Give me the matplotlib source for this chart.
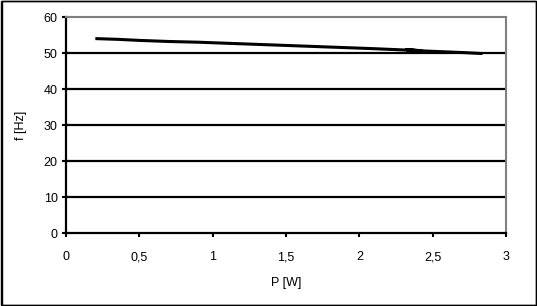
import matplotlib.pyplot as plt
from matplotlib.patches import Rectangle
from matplotlib.ticker import FuncFormatter

plt.rcParams["font.family"] = ["Liberation Sans", "DejaVu Sans"]

# measured power vs frequency
power = [0.2, 0.35, 0.5, 0.7, 0.9, 1.1, 1.3, 1.5, 1.7, 1.9, 2.1, 2.3, 2.42, 2.32, 2.45, 2.6, 2.72, 2.84]
freq = [54.0, 53.8, 53.5, 53.2, 53.0, 52.7, 52.4, 52.1, 51.8, 51.5, 51.2, 50.85, 50.6, 50.95, 50.55, 50.3, 50.1, 49.85]

x_ticks = [0, 0.5, 1, 1.5, 2, 2.5, 3]
y_ticks = [0, 10, 20, 30, 40, 50, 60]

fig = plt.figure(figsize=(5.37, 3.06), dpi=100)
ax = fig.add_axes([66 / 537, 73 / 306, 440 / 537, 216 / 306])

ax.plot(power, freq, color="black", linewidth=2.2, solid_capstyle="butt")

ax.set_xlim(0, 3)
ax.set_ylim(0, 60)
ax.set_xticks(x_ticks)
ax.set_yticks(y_ticks)
ax.xaxis.set_major_formatter(FuncFormatter(lambda v, _: f"{v:g}".replace(".", ",")))

for y in y_ticks[1:-1]:
    ax.axhline(y, color="black", linewidth=1.6, zorder=1)

ax.spines["left"].set_linewidth(1.6)
ax.spines["bottom"].set_linewidth(1.6)
ax.spines["top"].set_color("#808080")
ax.spines["right"].set_color("#808080")
ax.spines["top"].set_linewidth(1.5)
ax.spines["right"].set_linewidth(1.5)

ax.tick_params(axis="y", direction="inout", length=6, width=1.5, labelsize=9, pad=3)
ax.tick_params(axis="x", direction="out", length=3, width=1.5, labelsize=9, pad=10)

ax.set_xlabel("P [W]", fontsize=9, labelpad=10)
ax.set_ylabel("f [Hz]", fontsize=9, labelpad=12)

fig.patches.append(Rectangle((0.5 / 537, 1.5 / 306), 535 / 537, 304 / 306, transform=fig.transFigure,
                             fill=False, edgecolor="black", linewidth=1.0))
fig.patches.append(Rectangle((1.5 / 537, 1.0 / 306), 534.5 / 537, 304 / 306, transform=fig.transFigure,
                             fill=False, edgecolor="black", linewidth=1.0))

fig.savefig("out.png", dpi=100)
